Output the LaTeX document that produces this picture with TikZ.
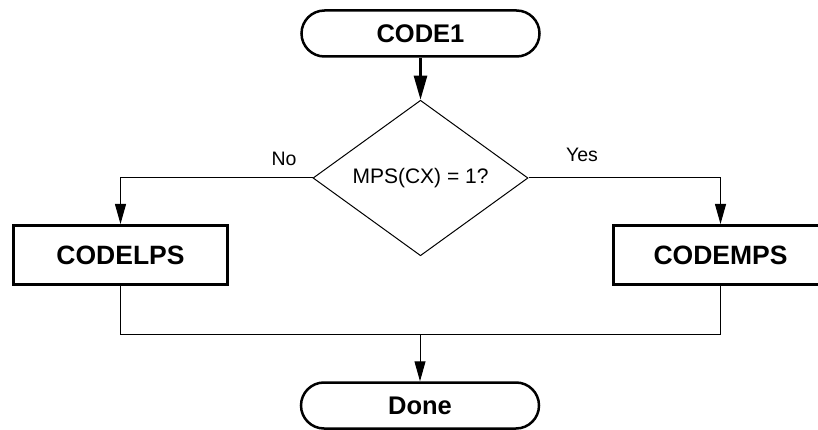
\documentclass[tikz,border=0pt]{standalone}
\usepackage{fontspec}
\setmainfont{Liberation Sans}
\usetikzlibrary{shapes.geometric,arrows.meta}
\tikzset{
  term/.style={draw, line width=2.5pt, rounded corners=23pt, minimum width=238pt, minimum height=46pt, inner sep=0pt, font=\fontsize{25.5}{28}\selectfont\bfseries},
  procbox/.style={draw, line width=3pt, minimum width=214pt, minimum height=59pt, inner sep=0pt, font=\fontsize{26.5}{29}\selectfont\bfseries},
  decide/.style={draw, diamond, line width=1pt, minimum width=215pt, minimum height=144pt, inner sep=0pt, font=\fontsize{21}{24}\selectfont},
  lbl/.style={font=\fontsize{19.5}{22}\selectfont, inner sep=0pt},
  conn/.style={line width=1pt, -{Triangle[length=20pt,width=11pt]}},
  thickconn/.style={line width=2.5pt, -{Triangle[length=24pt,width=13pt]}},
  plain/.style={line width=1pt}
}
\begin{document}
\begin{tikzpicture}[x=1pt,y=-1pt]
\useasboundingbox (0,0) rectangle (818,430);
\node[term] (code1) at (420.5,33.5) {CODE1};
\node[decide] (dec) at (420.5,178) {MPS(CX) = 1?};
\node[procbox] (lps) at (120.5,255) {CODELPS};
\node[procbox] (mps) at (720.5,255) {CODEMPS};
\node[term] (done) at (420,405.5) {Done};
\coordinate (join) at (420,334);
\node[lbl] (no) at (284,159) {No};
\node[lbl] (yes) at (582,155) {Yes};
\draw[thickconn] (code1.south) -- (dec.north);
\draw[conn] (dec.west) -| (lps.north);
\draw[conn] (dec.east) -| (mps.north);
\draw[plain] (lps.south) |- (join);
\draw[plain] (mps.south) |- (join);
\draw[conn] (join) -- (done.north);
\end{tikzpicture}
\end{document}
